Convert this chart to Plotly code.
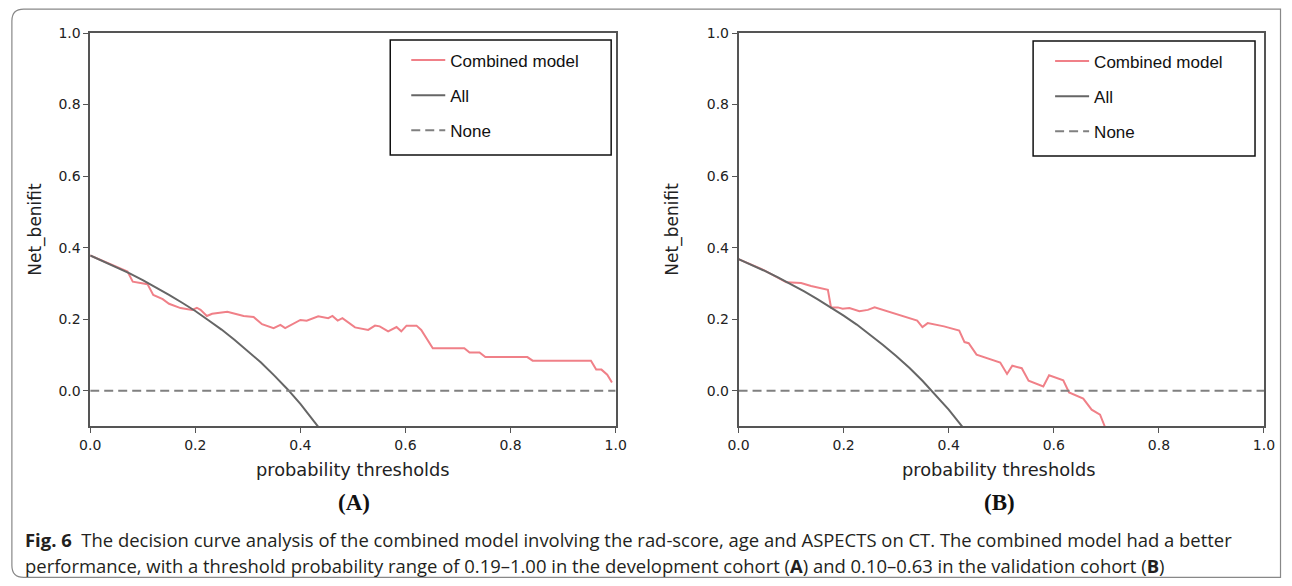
import plotly.graph_objects as go

W, H = 1292, 586

# ---------------- data ----------------
thr_ticks = [0.0, 0.2, 0.4, 0.6, 0.8, 1.0]
nb_ticks = [0.0, 0.2, 0.4, 0.6, 0.8, 1.0]
tick_text = ["0.0", "0.2", "0.4", "0.6", "0.8", "1.0"]

# Panel A (development cohort)
a_model_x = [0.0, 0.025, 0.05, 0.071, 0.081, 0.109, 0.12, 0.138, 0.150, 0.172, 0.194, 0.203,
             0.210, 0.222, 0.232, 0.261, 0.292, 0.311, 0.327, 0.349, 0.362, 0.371, 0.400,
             0.412, 0.434, 0.453, 0.461, 0.471, 0.480, 0.504, 0.529, 0.542, 0.551, 0.567,
             0.583, 0.592, 0.602, 0.621, 0.630, 0.652, 0.712, 0.722, 0.741, 0.752, 0.832,
             0.842, 0.953, 0.963, 0.973, 0.984, 0.993]
a_model_y = [0.378, 0.362, 0.346, 0.333, 0.305, 0.298, 0.268, 0.256, 0.243, 0.231, 0.226, 0.232,
             0.226, 0.209, 0.215, 0.221, 0.209, 0.206, 0.186, 0.175, 0.184, 0.175, 0.198,
             0.196, 0.208, 0.203, 0.209, 0.196, 0.203, 0.177, 0.170, 0.182, 0.180, 0.166,
             0.178, 0.166, 0.182, 0.182, 0.170, 0.119, 0.119, 0.107, 0.107, 0.094, 0.094,
             0.084, 0.084, 0.059, 0.059, 0.045, 0.023]
a_all_x = [0.0, 0.025, 0.05, 0.075, 0.1, 0.125, 0.15, 0.175, 0.2, 0.225, 0.25, 0.275, 0.3,
           0.325, 0.35, 0.375, 0.4, 0.425, 0.435, 0.45]
a_all_y = [0.378, 0.362, 0.345, 0.328, 0.309, 0.289, 0.268, 0.246, 0.223, 0.197, 0.171, 0.142,
           0.111, 0.079, 0.043, 0.005, -0.037, -0.082, -0.101, -0.131]

# Panel B (validation cohort)
b_model_x = [0.0, 0.05, 0.091, 0.107, 0.119, 0.138, 0.157, 0.170, 0.176, 0.189, 0.198, 0.211,
             0.230, 0.246, 0.259, 0.290, 0.321, 0.340, 0.350, 0.360, 0.391, 0.420, 0.430,
             0.438, 0.453, 0.478, 0.498, 0.511, 0.521, 0.539, 0.552, 0.580, 0.591, 0.618,
             0.629, 0.656, 0.672, 0.688, 0.697, 0.702]
b_model_y = [0.368, 0.336, 0.303, 0.301, 0.301, 0.293, 0.287, 0.282, 0.233, 0.233, 0.229, 0.231,
             0.222, 0.226, 0.233, 0.219, 0.203, 0.196, 0.178, 0.189, 0.180, 0.168, 0.136,
             0.133, 0.101, 0.089, 0.079, 0.047, 0.070, 0.063, 0.028, 0.012, 0.043, 0.029,
             -0.005, -0.022, -0.053, -0.067, -0.100, -0.130]
b_all_x = [0.0, 0.025, 0.05, 0.075, 0.1, 0.125, 0.15, 0.175, 0.2, 0.225, 0.25, 0.275, 0.3,
           0.325, 0.35, 0.375, 0.4, 0.425, 0.44]
b_all_y = [0.368, 0.352, 0.335, 0.317, 0.298, 0.278, 0.256, 0.234, 0.210, 0.185, 0.157, 0.128,
           0.097, 0.064, 0.028, -0.011, -0.053, -0.099, -0.128]

none_x = [0.0, 1.0]
none_y = [0.0, 0.0]

series_names = ["Combined model", "All", "None"]
panel_labels = ["(A)", "(B)"]
caption_1 = ("<b>Fig. 6</b>  The decision curve analysis of the combined model involving the "
             "rad-score, age and ASPECTS on CT. The combined model had a better")
caption_2 = ("performance, with a threshold probability range of 0.19–1.00 in the development "
             "cohort (<b>A</b>) and 0.10–0.63 in the validation cohort (<b>B</b>)")

# ---------------- styling ----------------
RED = "#f08088"
GREY = "#666666"
DASH = "#808080"
SPINE = "#555555"

# the captured page shows the figure slightly offset/scaled; map target pixels to layout pixels
S = 0.98777


def rx(x):
    return x / S - 8


def ry(y):
    return y / S - 8


def px(x):
    return rx(x) / W


def py(y):
    return 1 - ry(y) / H


fig = go.Figure()

panels = [
    ("x", "y", "legend", a_model_x, a_model_y, a_all_x, a_all_y),
    ("x2", "y2", "legend2", b_model_x, b_model_y, b_all_x, b_all_y),
]
for xa, ya, lg, mx, my, ax_, ay_ in panels:
    fig.add_trace(go.Scatter(x=mx, y=my, mode="lines", name=series_names[0],
                             line=dict(color=RED, width=2), xaxis=xa, yaxis=ya,
                             legend=lg, legendgroup=lg + "a"))
    fig.add_trace(go.Scatter(x=ax_, y=ay_, mode="lines", name=series_names[1],
                             line=dict(color=GREY, width=2), xaxis=xa, yaxis=ya,
                             legend=lg, legendgroup=lg + "b"))
    fig.add_trace(go.Scatter(x=none_x, y=none_y, mode="lines", name=series_names[2],
                             line=dict(color=DASH, width=2, dash="9px,5px"), xaxis=xa, yaxis=ya,
                             legend=lg, legendgroup=lg + "c"))

tickfont = dict(family="DejaVu Sans", size=14, color="#222")
common_x = dict(range=[0, 1], tickvals=thr_ticks, ticktext=tick_text, showgrid=False,
                zeroline=False, showline=True, mirror=True, linecolor=SPINE, linewidth=1.5,
                ticks="outside", ticklen=5, tickwidth=1.2, tickcolor=SPINE, tickfont=tickfont)
common_y = dict(range=[-0.1, 1.0], tickvals=nb_ticks, ticktext=tick_text, showgrid=False,
                zeroline=False, showline=True, mirror=True, linecolor=SPINE, linewidth=1.5,
                ticks="outside", ticklen=5, tickwidth=1.2, tickcolor=SPINE, tickfont=tickfont)

ydom = [py(427), py(33)]
legend_common = dict(bgcolor="rgba(0,0,0,0)", borderwidth=0, tracegroupgap=10,
                     traceorder="grouped", itemwidth=34,
                     font=dict(family="Liberation Sans", size=17, color="#111"),
                     xanchor="left", yanchor="top")

fig.update_layout(
    width=W, height=H, margin=dict(l=0, r=0, t=0, b=0),
    paper_bgcolor="white", plot_bgcolor="white",
    xaxis=dict(domain=[px(87.5), px(615.5)], anchor="y", **common_x),
    yaxis=dict(domain=ydom, anchor="x", **common_y),
    xaxis2=dict(domain=[px(739), px(1267)], anchor="y2", **common_x),
    yaxis2=dict(domain=ydom, anchor="x2", **common_y),
    legend=dict(x=402.1 / W, y=1 - 35 / H, **legend_common),
    legend2=dict(x=1057.1 / W, y=1 - 36 / H, **legend_common),
)

shapes = []
# legend frames
for (x0, x1, y0, y1) in [(389, 611, 40, 155), (1035, 1258, 41, 156)]:
    shapes.append(dict(type="rect", xref="paper", yref="paper", x0=px(x0), x1=px(x1),
                       y0=py(y1), y1=py(y0), line=dict(color="#111", width=1.5)))
# outer rounded frame (layout pixels)
L, T, R, B, r = 0.9, 1.2, 1291.5, 577.2, 12
path = (f"M {(L + r) / W},{1 - T / H} L {R / W},{1 - T / H} L {R / W},{1 - B / H} "
        f"L {(L + r) / W},{1 - B / H} Q {L / W},{1 - B / H} {L / W},{1 - (B - r) / H} "
        f"L {L / W},{1 - (T + r) / H} Q {L / W},{1 - T / H} {(L + r) / W},{1 - T / H} Z")
shapes.append(dict(type="path", xref="paper", yref="paper", path=path,
                   line=dict(color="#888", width=1.2)))
fig.update_layout(shapes=shapes)

ann = []
titlefont = dict(family="DejaVu Sans", size=17.8, color="#222")
for cx in [352, 1001]:
    ann.append(dict(text="probability thresholds", x=px(cx), y=py(470), xref="paper",
                    yref="paper", showarrow=False, font=titlefont, xanchor="center",
                    yanchor="middle"))
for cx in [33, 673]:
    ann.append(dict(text="Net_benifit", x=px(cx), y=py(229), xref="paper", yref="paper",
                    showarrow=False, font=dict(family="DejaVu Sans", size=17, color="#222"),
                    textangle=-90, xanchor="center", yanchor="middle"))
for lab, cx in zip(panel_labels, [353, 1001]):
    ann.append(dict(text=f"<b>{lab}</b>", x=px(cx), y=py(503), xref="paper", yref="paper",
                    showarrow=False, font=dict(family="Liberation Serif", size=23, color="#111"),
                    xanchor="center", yanchor="middle"))
capfont = dict(family="Open Sans", size=18.45, color="#231f20")
ann.append(dict(text=caption_1, x=12.0 / W, y=py(540), xref="paper", yref="paper",
                showarrow=False, font=capfont, xanchor="left", yanchor="middle"))
ann.append(dict(text=caption_2, x=12.0 / W, y=py(566), xref="paper", yref="paper",
                showarrow=False, font=capfont, xanchor="left", yanchor="middle"))
fig.update_layout(annotations=ann)

fig.write_html("out.html")
